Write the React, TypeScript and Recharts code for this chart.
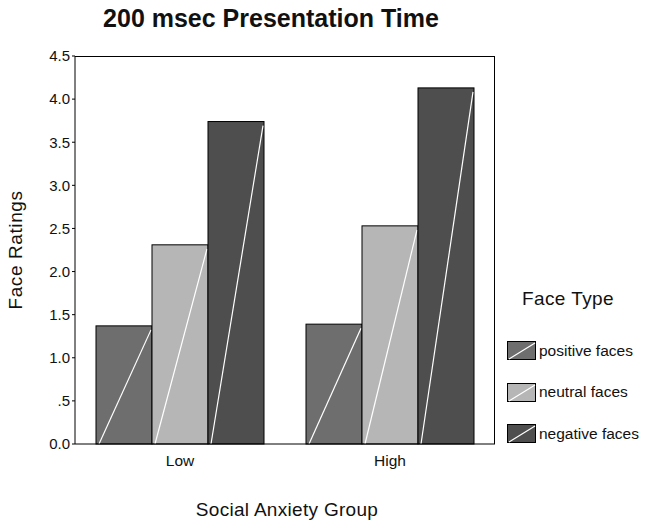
import { BarChart, Bar, XAxis, YAxis } from 'recharts';

const groups = ['Low', 'High'];
const positiveFaces = [1.37, 1.39];
const neutralFaces = [2.31, 2.53];
const negativeFaces = [3.74, 4.13];
const yTicks = [0, 0.5, 1, 1.5, 2, 2.5, 3, 3.5, 4, 4.5];

const series = [
  { key: 'positive', name: 'positive faces', color: '#6e6e6e' },
  { key: 'neutral', name: 'neutral faces', color: '#b6b6b6' },
  { key: 'negative', name: 'negative faces', color: '#4e4e4e' },
];

const data = groups.map((g, i) => ({
  group: g,
  positive: positiveFaces[i],
  neutral: neutralFaces[i],
  negative: negativeFaces[i],
}));

const FONT = 'Arial, "Liberation Sans", sans-serif';

function fmtTick(v: number) {
  if (v === 0) return '0.0';
  if (v === 0.5) return '.5';
  return v.toFixed(1);
}

// bar with the white diagonal stroke the original has
function HatchBar(props: any) {
  const { x, y, width, height, fill } = props;
  if (!height || height <= 0) return null;
  return (
    <g>
      <rect x={x} y={y} width={width} height={height} fill={fill} stroke="#000" strokeWidth={1} />
      <line x1={x + 3} y1={y + height} x2={x + width - 1} y2={y + 4} stroke="#fff" strokeWidth={1.2} />
    </g>
  );
}

function LegendBox() {
  return (
    <div style={{ position: 'absolute', left: 506, top: 288, fontFamily: FONT, color: '#111' }}>
      <div style={{ fontSize: 19, letterSpacing: 0.4, marginLeft: 16, marginBottom: 20 }}>Face Type</div>
      {series.map((s) => (
        <div key={s.key} style={{ display: 'flex', alignItems: 'center', height: 41.5 }}>
          <svg width={31} height={21}>
            <rect x={1.5} y={1.5} width={28} height={18} fill={s.color} stroke="#000" />
            <line x1={3} y1={19} x2={29} y2={3} stroke="#fff" strokeWidth={1.2} />
          </svg>
          <span style={{ fontSize: 15.5, marginLeft: 2 }}>{s.name}</span>
        </div>
      ))}
    </div>
  );
}

export default function App() {
  return (
    <div style={{ position: 'relative', width: 646, height: 522, background: '#fff', fontFamily: FONT }}>
      <style>{'body{margin:0}'}</style>
      <div
        style={{
          position: 'absolute',
          top: 4,
          left: 0,
          width: 542,
          textAlign: 'center',
          fontSize: 25,
          fontWeight: 'bold',
          color: '#111',
        }}
      >
        200 msec Presentation Time
      </div>
      <div
        style={{
          position: 'absolute',
          left: 0,
          top: 499,
          width: 574,
          textAlign: 'center',
          fontSize: 19,
          letterSpacing: 0.3,
          color: '#111',
        }}
      >
        Social Anxiety Group
      </div>
      <BarChart
        width={646}
        height={522}
        data={data}
        margin={{ top: 56, right: 151, left: 35, bottom: 48 }}
        barCategoryGap="10%"
        barGap={0}
      >
        <XAxis
          dataKey="group"
          stroke="#000"
          tickLine={false}
          tick={{ fill: '#111', fontSize: 15.5, fontFamily: FONT, dy: 3 }}
          height={30}
        />
        <YAxis
          domain={[0, 4.5]}
          ticks={yTicks}
          tickFormatter={fmtTick}
          stroke="#000"
          tickSize={3}
          width={40}
          tick={{ fill: '#111', fontSize: 15, fontFamily: FONT }}
          label={{
            value: 'Face Ratings',
            angle: -90,
            position: 'insideLeft',
            offset: -20,
            style: { fontSize: 19, letterSpacing: 0.6, fill: '#111', fontFamily: FONT, textAnchor: 'middle' },
          }}
        />
        {series.map((s) => (
          <Bar
            key={s.key}
            dataKey={s.key}
            name={s.name}
            fill={s.color}
            shape={<HatchBar />}
            isAnimationActive={false}
          />
        ))}
      </BarChart>
      {/* plot frame (top and right edges) */}
      <div
        style={{
          position: 'absolute',
          left: 75,
          top: 56,
          width: 420,
          height: 388,
          borderTop: '1px solid #000',
          borderRight: '1px solid #000',
          boxSizing: 'border-box',
          pointerEvents: 'none',
        }}
      />
      <LegendBox />
    </div>
  );
}
